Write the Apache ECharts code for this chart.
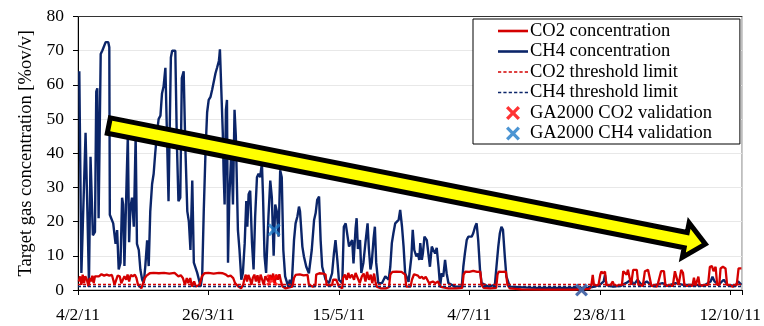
<!DOCTYPE html>
<html><head><meta charset="utf-8">
<script src="https://cdn.jsdelivr.net/npm/echarts@6/dist/echarts.min.js"></script>
<style>html,body{margin:0;padding:0;background:#fff}#c{width:764px;height:326px}</style>
</head><body><div id="c"></div>
<script>
// x values are days since 4/2/11
const tickLabels = ['4/2/11','26/3/11','15/5/11','4/7/11','23/8/11','12/10/11'];
const xMaxDay = 254.5;

const ch4Series = [
[0.5,64],[1.3,5],[2.9,46],[3.6,23],[4.2,2],[4.8,39],[5.5,39],[5.7,16],[6.5,17],[7.0,58],[7.4,59],[7.9,21],[8.7,69],[9.3,70],[9.9,69.5],[10.6,72.5],[11.6,72.5],[12.0,71],[12.2,22],[13.5,19.5],[14.4,13.5],[15.0,17.5],[15.6,6],[16.3,8],[16.9,27],[17.3,25],[17.8,7],[18.6,31],[19.1,45],[19.6,14],[20.1,24],[20.7,27],[21.4,18.5],[22.1,45],[22.6,13.5],[23.3,11.7],[23.9,6],[24.6,3],[25.2,2],[25.8,7],[26.5,14.5],[27.1,7],[27.7,23],[28.4,31],[29.0,34],[29.6,40],[30.3,46],[30.9,50],[31.6,51],[32.2,57.5],[32.8,59.5],[33.5,65],[34.1,65],[34.7,26],[35.1,26],[35.6,68],[36.1,70],[37.3,70],[37.9,43],[38.5,26],[39.2,27],[39.8,62],[40.5,64],[41.1,43],[41.9,23],
[42.5,20],[43.1,11.7],[43.8,32],[44.4,8],[45.7,5],[47,1],[47.6,4],[48.2,23],[48.9,41],[49.5,52],[50.1,55.6],[50.8,56.5],[51.4,58.5],[52,59],[52.7,63.4],[53.3,65],[54,67],[54.2,68.5],[54.4,70.4],[55.5,46],[55.8,35],[56.2,25],[56.7,52.7],[57.1,55.6],[57.5,8],[58,27],[58.8,41],[59.4,25],[60,52.7],[60.5,45],[61.3,17.5],[61.9,11.7],[62.6,3],[63.2,5],[63.9,13.7],[64.5,26],[64.9,18.5],[65.4,28],[66,29],[66.7,13.7],[67.3,6],[67.9,21.5],[68.6,33],[69.2,34],[69.8,33],[70.5,37],[70.9,28],[71.5,10],[72.1,5],[73,21.5],[73.7,32],[74.3,27],[75,10],[75.6,25],[76.2,23],[76.9,15.6],[77.5,35],[78.1,33],[78.7,11.7],[79.4,4],[80.6,1],[81.2,3],[81.9,1],[82.8,14.6],[83.4,19.5],[84.1,21.5],[84.7,24.4],[85.1,23],[85.5,18.5],
[86,12.7],[86.6,9.8],[87.5,6.8],[88.5,4.9],[89.6,11.7],[90.5,20.5],[91.1,22.5],[91.7,26.4],[92.4,27.3],[93,14.6],[93.6,6.8],[94.9,3],[96.2,2],[97.4,4.9],[98.1,10.7],[98.7,14.6],[99.4,8.8],[100,3],[101.3,2],[101.9,18.5],[102.6,19.5],[103.2,19.5],[103.9,12.7],[104.5,13.7],[105.1,14.6],[105.6,7.8],[106.4,18],[106.8,21],[107.3,12],[108.1,14.6],[108.6,5],[109.4,8],[110.2,14],[111,19.5],[111.5,12],[112.1,6],[112.6,8],[113.3,15],[113.8,18.5],[114.3,8],[115.1,2],[116.5,2],[117.8,4],[119.1,3],[119.7,6.8],[120.3,13.7],[120.9,16.6],[121.6,19.5],[122.9,20.5],[123.5,23.4],[124.2,18.5],[124.8,12.7],[125.4,4.9],[126.7,2.4],[127.8,9.8],[128.3,17.6],[128.9,11.7],[129.7,9.8],[130.3,10.7],[130.8,8.8],[131.2,13.7],[131.8,8.8],[132.2,10.7],[132.8,15.6],[133.7,14.6],[134.3,14.6],[134.9,6.8],[135.6,12.7],[136.2,11.7],[136.9,10.7],[137.5,12.3],[138.2,6.8],[138.8,1],[139.4,4.9],[140,3.9],[140.7,8.8],[141.3,4.9],[142,2],[144.5,1],[147.1,1],[147.7,6.8],[148.3,10.7],[149,14.6],[149.6,15.6],[150.9,15.6],[151.5,16.6],[152.2,18.5],[152.8,19.5],[153.4,14.6],[154.1,5.9],[154.7,2],[157.3,1],[159.8,1.5],[160.4,6.8],[161.1,12.7],[161.7,16.6],[162.3,18.5],[162.9,17.6],[163.6,9.8],[164.2,4],[165.5,1],[172.5,0.7],[180,0.6],[188,0.6],[196,0.7],
[198,1],[200,1.5],[201.5,2.5],[202,4.4],[202.6,1.5],[205,1],[208,1.2],[210,2],[212,3],[213,1.5],[214.5,3],[216,1.5],[218,2.5],[220,1.2],[224,2],[226,1.2],[229,2],[232,1.5],[236,1.5],[240,1.3],[242.5,2.5],[243.2,3.9],[244,2.5],[245.5,1.5],[247.5,3],[248.2,3.5],[249,1.5],[252,1.2],[253,2.5],[254.3,1.5]
];

const co2Series = [
[0.3,2.5],[0.8,4],[1.3,1.5],[1.8,4.5],[2.3,2],[2.8,4],[3.4,3],[4,1],[4.5,3.5],[5,2.5],[5.5,4.2],[6,2],[6.5,4],[7.1,4.4],[8,4],[9,4.6],[10,4.2],[11,4.5],[12,4.2],[13,4.4],[13.5,3],[14,1.5],[14.6,2],[15.2,4.2],[16,4],[16.6,2],[17.3,1.5],[17.8,4],[18.5,3],[19,4.5],[19.6,2.5],[20.2,4.4],[21,4],[21.8,4.5],[22.4,3.5],[23,1.5],[23.6,2],[24.3,0.5],[25,1],[25.6,3.5],[26.3,4.2],[27,4],[27.5,4.9],[29,5],[31,4.9],[33,5],[35,4.8],[37,5],[37.7,4.5],[38.5,4],[39.4,4.3],[40.2,3.5],[41,1.5],[41.7,3.5],[42.3,2],[43,3.5],[43.7,1],[44.5,2.5],[45.2,1],[45.9,0.5],[46.6,1.5],[47.5,4],[48.5,4.9],[50,5],[52,4.8],[54,5],[55.5,4.9],[56.7,4.5],[57.5,4],[58.5,4.2],[59.5,3.5],[60.2,2],[60.6,1.5],[61.5,1],[62.5,0.5],[63.3,1.5],[63.7,3],[64.3,4.5],[64.8,2.5],[65.3,4.4],[66,3],[66.5,1.5],[67,3.5],[67.6,4.5],[68.2,2.5],[68.8,4.3],[69.4,2],[70,4.5],[70.6,3],[71.2,1.5],[71.8,4],[72.4,4.5],[73,2.5],[73.6,4.4],[74.2,3],[74.8,4.8],[75.4,2],[76,4.5],[76.6,3],[77.2,4.6],[77.8,2.5],[78.4,1],[79.5,0.5],[81,0.8],[82.2,1],[82.8,3.5],[83.4,4.4],[85,4.6],[86.5,4.3],[88,4.4],[88.5,1.5],[90,1],[91,1.2],[91.3,4.5],[92.5,4.9],[94,4.8],[94.9,4.5],[95.3,1.5],[96.5,1.2],[97.4,1.5],[97.8,3],[99,3],[99.6,2.5],[100,1],[101.3,0.5],[101.6,3.5],[102.3,4.5],[103,3],[103.6,5],[104.2,3.5],[105,4.5],[105.8,3],[106.4,5],[107.2,3.5],[108,2],[108.8,4],[109.5,4.8],[110.2,2.5],[110.8,5.3],[111.5,3],[112.2,4.5],[112.8,2],[113.5,4.8],[114,2.5],[114.5,1],[116,0.5],[118,0.5],[119.2,0.8],[119.7,4.5],[120.5,5.3],[122,5.4],[124,5.3],[125.4,4.5],[125.8,1],[127.5,1],[128,3],[128.8,4.6],[129.5,5],[130.3,4.2],[131,3.5],[131.8,3.9],[132.5,3.2],[133.3,3.9],[134,3.5],[134.6,2],[135.3,2],[136,2.5],[137,2],[138,2.5],[138.8,1],[140,0.8],[142,0.5],[145,0.5],[147.3,0.6],[147.8,4.5],[148.5,5.4],[150,5.3],[151.5,5.6],[153,5.3],[154.2,5.4],[154.7,1.5],[155.5,0.6],[158,0.5],[160.3,0.6],[160.8,4.5],[161.3,5.4],[162.5,5.3],[164,5.4],[164.6,1.5],[165.5,0.5],
[170,0.2],[180,0.1],[190,0.1],[196,0.3],[196.8,1.5],[197.3,4.4],[197.8,1.2],[199.5,1.5],[200.2,4.5],[200.6,5.4],[201.3,4.8],[202,5.4],[202.5,1.5],[204,1.2],[205,2.5],[205.5,1.2],[208.5,1.5],[209,5.5],[209.6,5.9],[210.3,4.5],[210.8,5.9],[211.5,5.5],[212,1.5],[212.8,5.9],[213.5,5.5],[214.2,5.9],[214.8,1.5],[216.5,1.2],[217.3,5.5],[217.8,5.9],[218.5,5.9],[219.2,5.5],[219.8,1.2],[222,1],[223.5,5.5],[224,5.9],[224.6,5.5],[225.2,1.2],[228,1.2],[228.8,5.5],[229.5,5.9],[230.2,1.5],[231.2,5.9],[231.9,5],[232.5,1.2],[235.5,1.2],[236.1,3.6],[236.7,1.2],[237.8,3.9],[238.3,1.2],[241.5,1.5],[242.2,6.8],[243,7],[243.6,5.5],[244.4,6.8],[245,1.5],[245.8,1.5],[246.3,6.3],[247.2,6.8],[248.2,6.3],[248.8,1.5],[251,1],[252.5,1.5],[253.2,6.3],[254.3,6.3]
];

const co2Threshold = 1.6;
const ch4Threshold = 1.0;
const co2Validation = [[74.4,2.9],[193,0]];
const ch4Validation = [[75.2,17.6],[193,0]];
const trendArrow = [[11.8,48.1],[241.4,13.3]]; // tail, tip (data coords)

const names = ['CO2 concentration','CH4 concentration','CO2 threshold limit','CH4 threshold limit','GA2000 CO2 validation','GA2000 CH4 validation'];
const FONT = 'Liberation Serif, Times New Roman, serif';
const crossPath = 'path://M2,0 L6,4 L10,0 L12,2 L8,6 L12,10 L10,12 L6,8 L2,12 L0,10 L4,6 L0,2 Z';
const solidIcon = 'path://M0,0H30V2.6H0Z';
const dashIcon = 'path://M0,0H3V1.6H0Z M5,0H8V1.6H5Z M10,0H13V1.6H10Z M15,0H18V1.6H15Z M20,0H23V1.6H20Z M25,0H28V1.6H25Z';
const CO2C = '#d40000', CH4C = '#0b2569';

const chart = echarts.init(document.getElementById('c'));
const option = {
  animation: false,
  backgroundColor: '#fff',
  grid: {left: 78, right: 19, top: 16.5, bottom: 36, show: true, borderColor: '#8c8c8c', borderWidth: 1},
  legend: {
    orient: 'vertical', left: 473, top: 19,
    padding: [2.5, 28, 1, 25], itemGap: 1.5, itemWidth: 30, itemHeight: 14,
    backgroundColor: '#fff', borderColor: '#000', borderWidth: 1, borderRadius: 0,
    textStyle: {fontFamily: FONT, fontSize: 18.5, lineHeight: 18.5, color: '#000', padding: [0,0,0,-3]},
    data: [
      {name: names[0], icon: solidIcon}, {name: names[1], icon: solidIcon},
      {name: names[2], icon: dashIcon}, {name: names[3], icon: dashIcon},
      {name: names[4], icon: crossPath}, {name: names[5], icon: crossPath}
    ]
  },
  xAxis: [{
    type: 'value', min: 0, max: xMaxDay, interval: 50,
    axisLine: {lineStyle: {color: '#000', width: 1}},
    axisTick: {show: true, length: 5, lineStyle: {color: '#000'}},
    axisLabel: {fontFamily: FONT, fontSize: 17.5, color: '#000', margin: 16,
      formatter: v => { const i = v / 50; return Number.isInteger(i) && tickLabels[i] ? tickLabels[i] : ''; }},
    splitLine: {show: false}
  }, {
    type: 'value', position: 'top', min: 0, max: xMaxDay,
    axisLine: {show: true, lineStyle: {color: '#333', width: 1}},
    axisTick: {show: false}, axisLabel: {show: false}, splitLine: {show: false}
  }],
  yAxis: {
    type: 'value', min: 0, max: 80, interval: 10,
    name: 'Target gas concentration [%ov/v]', nameLocation: 'middle', nameGap: 41,
    nameTextStyle: {fontFamily: FONT, fontSize: 18.5, color: '#000'},
    axisLine: {show: true, lineStyle: {color: '#000', width: 1}},
    axisTick: {show: true, length: 5, lineStyle: {color: '#000'}},
    axisLabel: {fontFamily: FONT, fontSize: 17.5, color: '#000', margin: 14},
    splitLine: {show: true, lineStyle: {color: '#e8e8e8', width: 1}}
  },
  series: [
    {name: names[0], type: 'line', data: co2Series, symbol: 'none', z: 3,
      lineStyle: {color: CO2C, width: 2.3}, itemStyle: {color: CO2C}},
    {name: names[1], type: 'line', data: ch4Series, symbol: 'none', z: 2,
      lineStyle: {color: CH4C, width: 2.4}, itemStyle: {color: CH4C}},
    {name: names[2], type: 'line', data: [[0, co2Threshold],[xMaxDay, co2Threshold]], symbol: 'none', z: 4,
      lineStyle: {color: CO2C, width: 1.5, type: [3,2]}, itemStyle: {color: CO2C}},
    {name: names[3], type: 'line', data: [[0, ch4Threshold],[xMaxDay, ch4Threshold]], symbol: 'none', z: 4,
      lineStyle: {color: CH4C, width: 1.5, type: [3,2]}, itemStyle: {color: CH4C}},
    {name: names[4], type: 'scatter', data: co2Validation, symbol: crossPath, symbolSize: 12, z: 5,
      itemStyle: {color: '#ff0000'}},
    {name: names[5], type: 'scatter', data: ch4Validation, symbol: crossPath, symbolSize: 13, z: 6,
      itemStyle: {color: '#1f7bc8'}}
  ]
};
chart.setOption(option);

// trend arrow annotation, anchored to data coordinates
const T = chart.convertToPixel({xAxisIndex: 0, yAxisIndex: 0}, trendArrow[0]);
const P = chart.convertToPixel({xAxisIndex: 0, yAxisIndex: 0}, trendArrow[1]);
const dx = P[0]-T[0], dy = P[1]-T[1], L = Math.hypot(dx, dy);
const ux = dx/L, uy = dy/L, nx = -uy, ny = ux;
const hs = 7.8, hw = 17.5, hl = 20, sw = 5;
const tip = [P[0]-ux*2.5, P[1]-uy*2.5];
const B = [tip[0]-ux*hl, tip[1]-uy*hl];
const pts = [
  [T[0]+nx*hs, T[1]+ny*hs], [B[0]+nx*hs, B[1]+ny*hs], [B[0]+nx*hw, B[1]+ny*hw], tip,
  [B[0]-nx*hw, B[1]-ny*hw], [B[0]-nx*hs, B[1]-ny*hs], [T[0]-nx*hs, T[1]-ny*hs]
];
chart.setOption({graphic: [{type: 'polygon', z: 100, shape: {points: pts},
  style: {fill: '#ffff00', stroke: '#000', lineWidth: sw, lineJoin: 'miter', miterLimit: 10}}]});
</script></body></html>
